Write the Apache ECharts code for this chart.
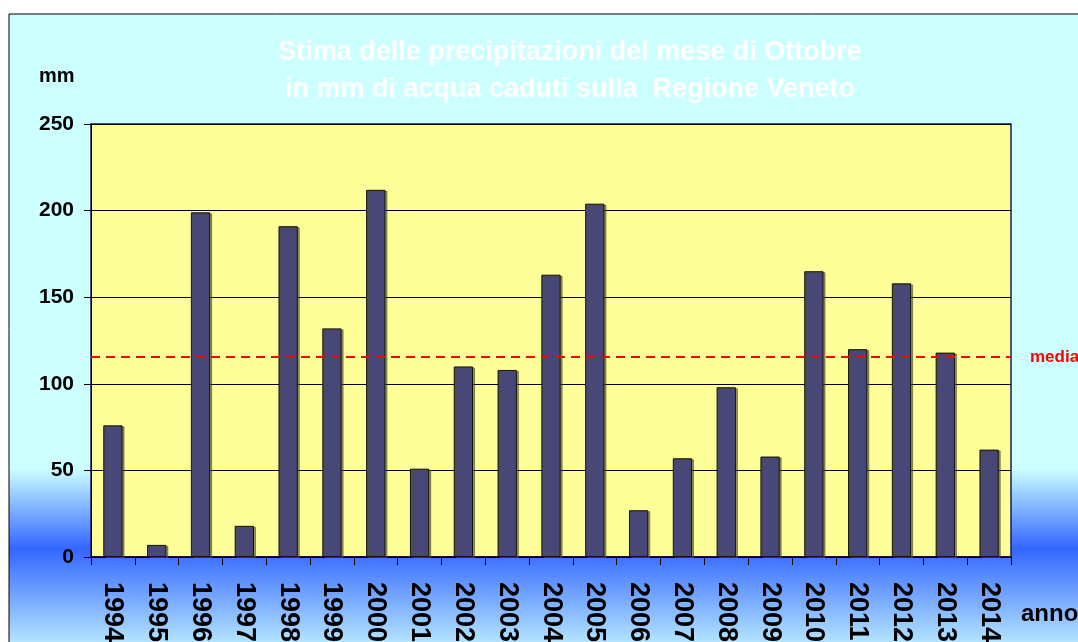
<!DOCTYPE html>
<html lang="it">
<head>
    <meta charset="UTF-8">
    <title>Precipitazioni Ottobre - Veneto</title>
    <script src="https://cdn.jsdelivr.net/npm/echarts@6/dist/echarts.min.js"></script>
</head>
<style>
    *{
        margin: 0;
        padding: 0;
    }
    html , body{
        width: 100%;
        height: 100%;
        overflow: hidden;
        background: #ffffff;
    }
    .container{
        width: 1078px;
        height: 642px;
    }
</style>
<body>
<div class="container"></div>
<script>
    // dati
    let anni=['1994','1995','1996','1997','1998','1999','2000','2001','2002','2003','2004',
        '2005','2006','2007','2008','2009','2010','2011','2012','2013','2014'];
    let pioggia=[76,7,199,18,191,132,212,51,110,108,163,204,27,57,98,58,165,120,158,118,62];
    let media=115.5;
    let yTicks=[0,50,100,150,200,250];

    let container=document.querySelector('.container');
    let mycharts=echarts.init(container);

    let font='Arial, "Liberation Sans", sans-serif';

    let option={
        animation:false,
        // sfondo cornice con banda blu in basso
        graphic:[{
            type:'rect',
            z:-10,
            shape:{x:9,y:14,width:1090,height:640},
            style:{
                fill:new echarts.graphic.LinearGradient(0,0,0,1,[
                    {offset:0,color:'#ccffff'},
                    {offset:0.71,color:'#ccffff'},
                    {offset:0.835,color:'#3366ff'},
                    {offset:1,color:'#c4f4ff'}
                ]),
                stroke:'#000',
                lineWidth:1
            }
        },{
            type:'text',
            x:570,
            y:34,
            style:{
                text:'Stima delle precipitazioni del mese di Ottobre\nin mm di acqua caduti sulla  Regione Veneto',
                fill:'#ffffff',
                font:'bold 27px '+font,
                lineHeight:37,
                align:'center'
            }
        },{
            type:'text',
            x:39,
            y:66,
            style:{text:'mm',fill:'#000',font:'bold 20px '+font}
        },{
            type:'text',
            x:1021,
            y:602,
            style:{text:'anno',fill:'#000',font:'bold 24px '+font}
        }],
        grid:{
            left:91,
            right:67,
            top:124,
            bottom:85,
            outerBoundsMode:'none',
            show:true,
            backgroundColor:'#ffff99',
            borderColor:'#1a1a66',
            borderWidth:1.5
        },
        xAxis:{
            type:'category',
            data:anni,
            axisLine:{lineStyle:{color:'#000',width:1.5}},
            axisTick:{show:true,length:8,lineStyle:{color:'#000'}},
            axisLabel:{
                rotate:-90,
                margin:25,
                color:'#000',
                fontWeight:'bold',
                fontSize:27,
                fontFamily:font
            }
        },
        yAxis:{
            type:'value',
            min:yTicks[0],
            max:yTicks[yTicks.length-1],
            interval:50,
            axisLine:{show:true,lineStyle:{color:'#000'}},
            axisTick:{show:true,length:7,lineStyle:{color:'#000'}},
            splitLine:{lineStyle:{color:'#000',width:1}},
            axisLabel:{
                margin:17,
                color:'#000',
                fontWeight:'bold',
                fontSize:21,
                fontFamily:font
            }
        },
        series:[{
            type:'bar',
            data:pioggia,
            barWidth:'44%',
            itemStyle:{
                color:'#484878',
                borderColor:'#111',
                borderWidth:1,
                shadowColor:'rgba(80,80,40,0.6)',
                shadowOffsetX:2,
                shadowOffsetY:1
            },
            markLine:{
                symbol:'none',
                silent:true,
                data:[{yAxis:media}],
                lineStyle:{color:'#ff0000',type:[9,6],width:2},
                label:{
                    position:'end',
                    formatter:'media',
                    color:'#ff0000',
                    fontWeight:'bold',
                    fontSize:17,
                    fontFamily:font,
                    distance:19
                }
            }
        }]
    };
    mycharts.setOption(option);
</script>

</body>
</html>
